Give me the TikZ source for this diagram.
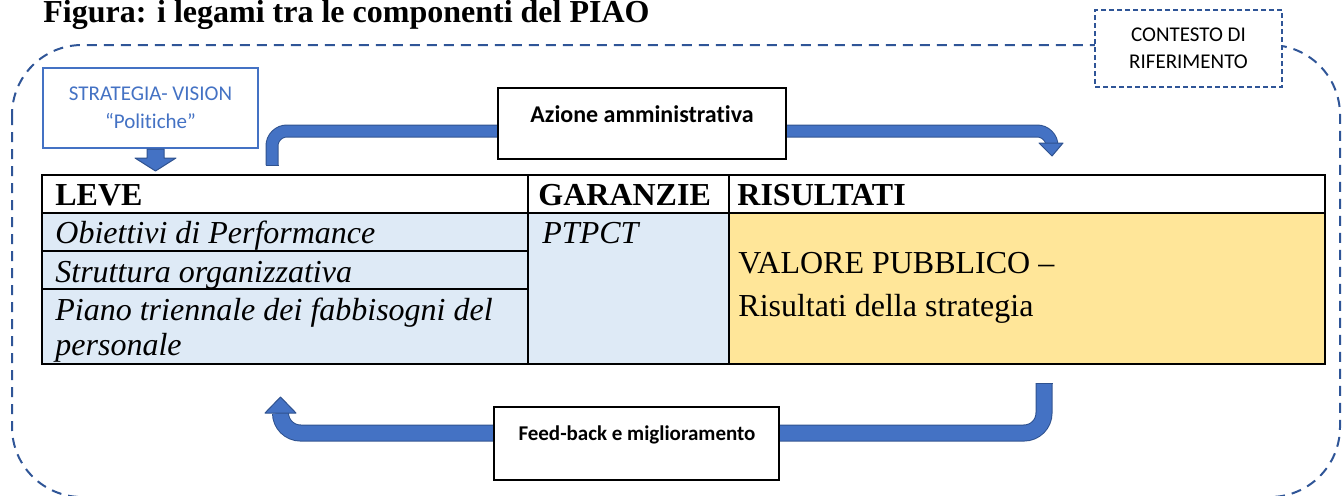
\documentclass[tikz,border=0pt]{standalone}
\usepackage{fontspec}
\setmainfont{Liberation Serif}
\newfontfamily\calibri[Ligatures=NoCommon]{Carlito}
\usetikzlibrary{positioning}
\definecolor{accent}{HTML}{4472C4}
\definecolor{accentdark}{HTML}{2F528F}
\definecolor{frameblue}{HTML}{2F5597}
\definecolor{levefill}{HTML}{DEEAF6}
\definecolor{gold}{HTML}{FFE699}
\tikzset{
  txt/.style={anchor=base west, inner sep=0pt, font=\fontsize{16}{17.5}\selectfont},
  hdr/.style={txt, font=\fontsize{16}{17.5}\selectfont\bfseries},
  lev/.style={txt, font=\fontsize{16}{17.5}\selectfont\itshape},
  actbox/.style={draw=black, line width=1pt, fill=white, inner sep=0pt},
  band/.style={draw=accentdark, line width=0.5pt, double=accent, rounded corners=#1},
  head/.style={fill=accent, draw=accentdark, line width=0.5pt, line join=round}
}
\begin{document}
\begin{tikzpicture}[x=0.5pt,y=-0.5pt]
\useasboundingbox (0,0) rectangle (1343,495);
\begin{scope}
\clip (0,0) rectangle (1343,495);
\draw[frameblue, line width=1pt, dash pattern=on 5pt off 3.5pt, rounded corners=35pt] (12,45) rectangle (1340,497);
\end{scope}
\node[txt, font=\fontsize{16}{17.5}\selectfont\bfseries] (title) at (43,22) {Figura: i legami tra le componenti del PIAO};
\node[draw=frameblue, dash pattern=on 2.5pt off 1.5pt, line width=0.65pt, fill=white, minimum width=93.5pt, minimum height=38.5pt, align=center, font=\calibri\fontsize{10.5}{13.5}\selectfont] (contesto) at (1188.5,48.5) {CONTESTO DI\\RIFERIMENTO};
\node[draw=accent, line width=0.75pt, fill=white, text=accent, minimum width=107.5pt, minimum height=40pt, align=center, font=\calibri\fontsize{10.5}{14}\selectfont] (strategia) at (150.5,108) {STRATEGIA- VISION\\“Politiche”};
\draw[head] (147,149) -- (164,149) -- (164,158) -- (176,158) -- (155.5,171) -- (135,158) -- (147,158) -- cycle;
% table
\fill[levefill] (42,213) rectangle (729,364);
\fill[gold] (729,213) rectangle (1325,364);
\draw[line width=1pt] (42,175) rectangle (1325,364);
\draw[line width=1pt] (42,213) -- (1325,213);
\foreach \x in {528,729} {\draw[line width=0.9pt] (\x,175) -- (\x,364);}
\foreach \y in {251,289} {\draw[line width=0.9pt] (42,\y) -- (528,\y);}
\node[hdr] (leve) at (55,205) {LEVE};
\node[hdr] (garanzie) at (538,205) {GARANZIE};
\node[hdr] (risultati) at (737,205) {RISULTATI};
\node[lev] (l1) at (55,243) {Obiettivi di Performance};
\node[lev] (l2) at (55,282) {Struttura organizzativa};
\node[lev] (l3) at (55,320) {Piano triennale dei fabbisogni del};
\node[lev] (l4) at (55,355) {personale};
\node[lev] (ptpct) at (542,243) {PTPCT};
\node[txt] (valore) at (738,273) {VALORE PUBBLICO –};
\node[txt] (ris) at (738,316) {Risultati della strategia};
% cycle arrows
\coordinate (a0) at (272,165);
\coordinate (a1) at (1052,143);
\draw[band=7.5pt, double distance=5.5pt] (a0) -- (272,131) -- (1052,131) -- (a1);
\draw[accentdark, line width=0.5pt] ([xshift=-3.25pt]a0) -- ([xshift=3.25pt]a0);
\draw[head] (1039,143) -- (1063,143) -- (1052,156) -- cycle;
\coordinate (b0) at (1044,383);
\coordinate (b1) at (280.5,413);
\draw[band=10pt, double distance=7.5pt] (b0) -- (1044,433) -- (280.5,433) -- (b1);
\draw[accentdark, line width=0.5pt] ([xshift=-4.25pt]b0) -- ([xshift=4.25pt]b0);
\draw[head] (265,413) -- (296,413) -- (280.5,397) -- cycle;
\node[actbox, minimum width=144pt, minimum height=35.5pt] (azione) at (642,123.5) {};
\node[font=\calibri\bfseries\fontsize{12}{14}\selectfont] (azionetxt) at (642,114) {Azione amministrativa};
\node[actbox, minimum width=142.5pt, minimum height=36.5pt] (feedback) at (636.5,443.5) {};
\node[font=\calibri\bfseries\fontsize{10.5}{12.5}\selectfont] (feedbacktxt) at (637,434.5) {Feed-back e miglioramento};
\end{tikzpicture}
\end{document}
